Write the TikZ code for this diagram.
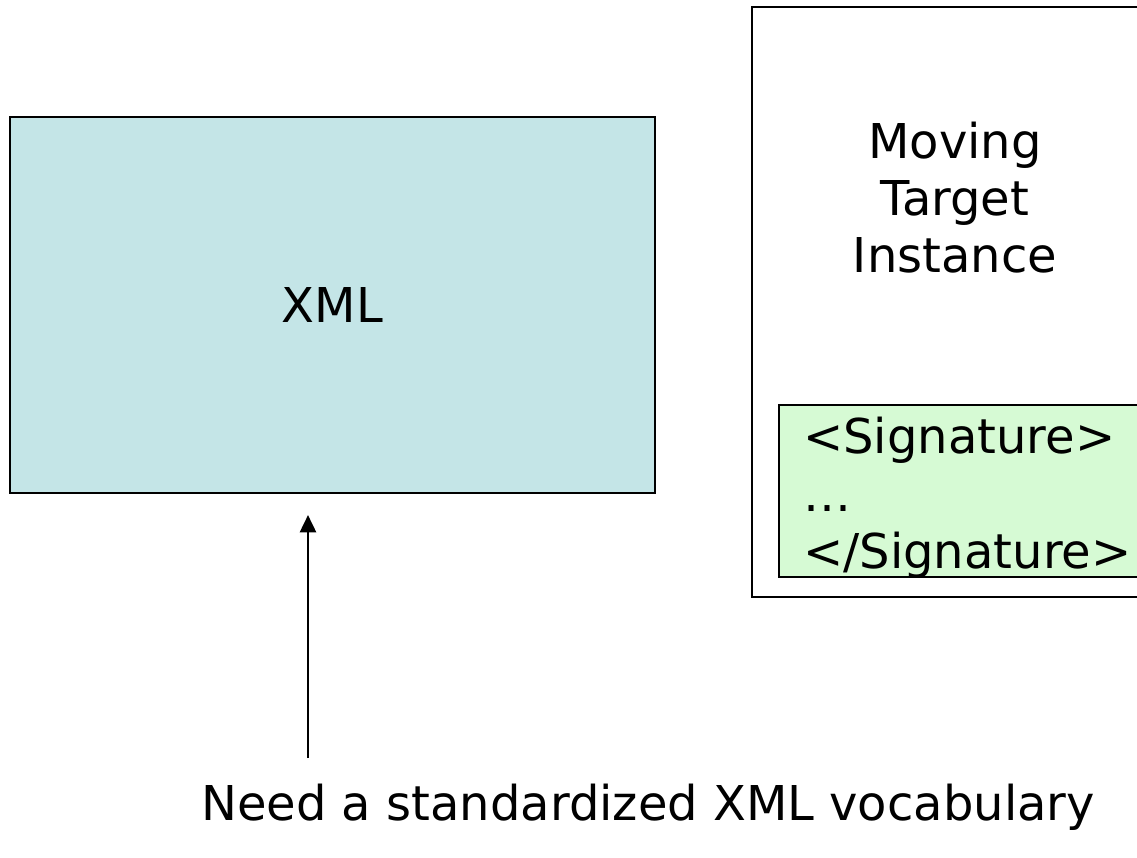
\documentclass[tikz,border=0pt]{standalone}
\usepackage{fontspec}
\setmainfont{DejaVu Sans}
\usetikzlibrary{fit,arrows.meta}
\definecolor{xmlblue}{RGB}{196,229,231}
\definecolor{siggreen}{RGB}{214,250,212}
\tikzset{
  box/.style={draw=black, line width=2pt, inner sep=0pt},
  big/.style={font=\fontsize{36pt}{42.75pt}\selectfont},
}
\begin{document}
\begin{tikzpicture}[x=0.75pt,y=-0.75pt]
\useasboundingbox (0,0) rectangle (1137,857);
\clip (0,0) rectangle (1137,857);
\node[box, fill=xmlblue, fit={(10,117) (655,493)}] (xml) {};
\node[big] at (xml.center) (xmltext) {XML};
\node[box, fill=white, fit={(752,7) (1160,597)}] (target) {};
\node[big, align=center, anchor=base] (tt) at (955,272) {Moving\\Target\\Instance};
\node[box, fill=siggreen, fit={(779,405) (1160,577)}] (sig) {};
\node[big, anchor=base west, inner sep=0pt] (s1) at (803,453) {<Signature>};
\node[big, anchor=base west, inner sep=0pt] (s2) at (803,511) {…};
\node[big, anchor=base west, inner sep=0pt] (s3) at (803,568) {</Signature>};
\coordinate (from) at (308,758);
\coordinate (tip) at (308,515);
\draw[line width=2pt, -{Triangle[length=13pt,width=12pt]}] (from) -- (tip);
\node[big, anchor=base] (need) at (648,820) {Need a standardized XML vocabulary};
\end{tikzpicture}
\end{document}
